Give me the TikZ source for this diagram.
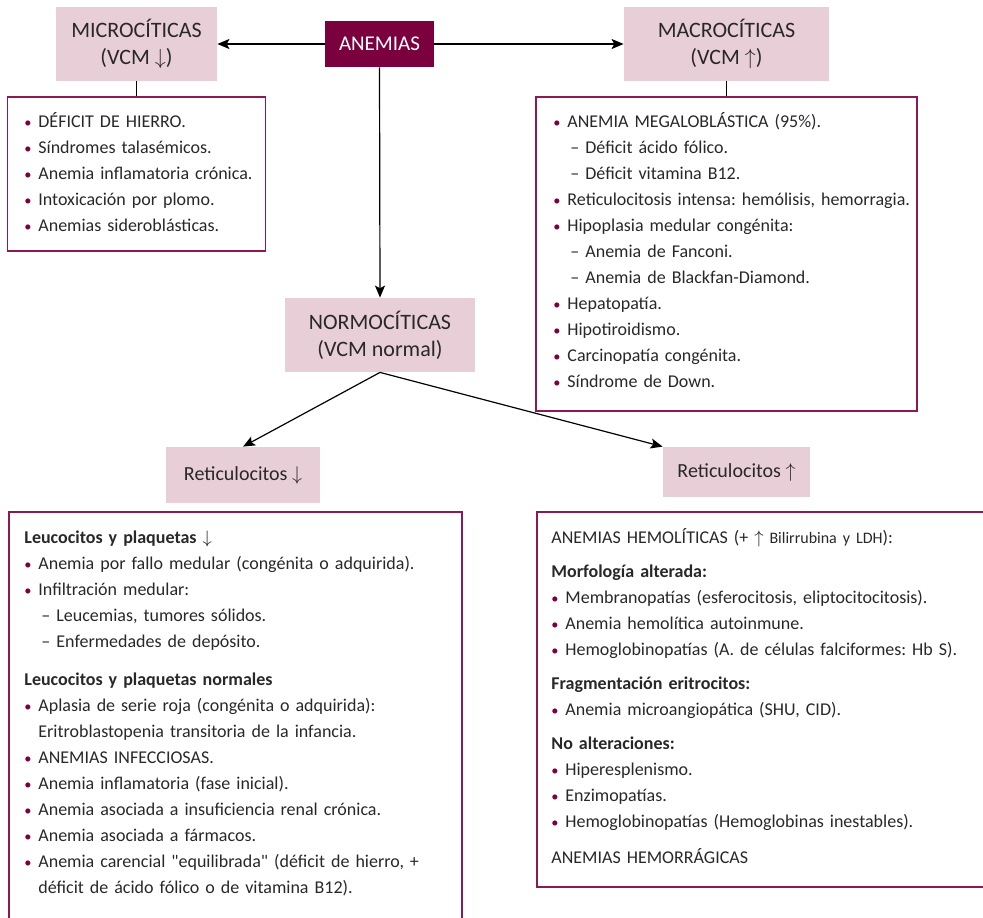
\documentclass[tikz,border=0pt]{standalone}
\usepackage{fontspec}
\setmainfont{Carlito}
\usetikzlibrary{arrows.meta, positioning}
\definecolor{anmaroon}{RGB}{122,0,62}
\definecolor{anpink}{RGB}{232,206,215}
\definecolor{anframe}{RGB}{140,25,82}
\definecolor{antext}{RGB}{40,40,40}
\frenchspacing

% list helpers: bullet item, continued line, dash sub-item, heading
\newcommand{\itm}[1]{\par\noindent\makebox[7pt][l]{\textcolor{anmaroon}{\scalebox{0.8}{\textbullet}}}\strut#1}
\newcommand{\cont}[1]{\par\noindent\hspace*{7pt}\strut#1}
\newcommand{\subitm}[1]{\par\noindent\hspace*{8.5pt}\makebox[7.5pt][l]{--}\strut#1}
\newcommand{\hd}[2][0pt]{\par\vspace{#1}\noindent\textbf{#2}\strut}

\begin{document}
\begin{tikzpicture}[
    x=0.5pt, y=-0.5pt,
    font=\fontsize{9}{13}\selectfont, text=antext,
    title/.style={rectangle, fill=anpink, inner sep=0pt, align=center,
                  font=\fontsize{11}{13.5}\selectfont},
    rootbox/.style={rectangle, fill=anmaroon, text=white, inner sep=0pt,
                    font=\fontsize{10.5}{12}\selectfont},
    framebox/.style={rectangle, draw=anframe, line width=0.75pt, inner sep=0pt},
    listtext/.style={anchor=north west, inner sep=0pt, align=left},
    arr/.style={-{Stealth[length=6pt, width=5pt, inset=1.3pt]}, line width=0.6pt},
    link/.style={line width=0.6pt}
]
\clip (0,0) rectangle (983,917);

% Top row
\node[rootbox, minimum width=54.5pt, minimum height=23pt] (anemias) at (379.5,44) {ANEMIAS};
\node[title, minimum width=80.5pt, minimum height=37pt] (micro) at (136.5,44) {MICROCÍTICAS\\(VCM $\downarrow$)};
\node[title, minimum width=102.5pt, minimum height=37pt] (macro) at (726.5,44) {MACROCÍTICAS\\(VCM $\uparrow$)};

% Lists under micro / macro
\node[framebox, minimum width=129pt, minimum height=77pt, below=7.5pt of micro] (microlist) {};
\node[framebox, minimum width=190.5pt, minimum height=157pt, below=7.5pt of macro] (macrolist) {};

\node[listtext, text width=125pt] (microtext) at (24,101) {%
\itm{DÉFICIT DE HIERRO.}
\itm{Síndromes talasémicos.}
\itm{Anemia inflamatoria crónica.}
\itm{Intoxicación por plomo.}
\itm{Anemias sideroblásticas.}};

\node[listtext, text width=200pt] (macrotext) at (553,101) {%
\itm{ANEMIA MEGALOBLÁSTICA (95\%).}
\subitm{Déficit ácido fólico.}
\subitm{Déficit vitamina B12.}
\itm{Reticulocitosis intensa: hemólisis, hemorragia.}
\itm{Hipoplasia medular congénita:}
\subitm{Anemia de Fanconi.}
\subitm{Anemia de Blackfan-Diamond.}
\itm{Hepatopatía.}
\itm{Hipotiroidismo.}
\itm{Carcinopatía congénita.}
\itm{Síndrome de Down.}};

% Middle
\node[title, minimum width=95pt, minimum height=37pt] (normo) at (380,335) {NORMOCÍTICAS\\(VCM normal)};
\node[title, minimum width=77pt, minimum height=28pt, font=\fontsize{10}{12}\selectfont] (retidown) at (243,475) {Reticulocitos $\downarrow$};
\node[title, minimum width=73.5pt, minimum height=25pt, font=\fontsize{10}{12}\selectfont] (retiup) at (736.5,472) {Reticulocitos $\uparrow$};

% Bottom lists (run past the page edge)
\node[framebox, anchor=north west, minimum width=226.5pt, minimum height=215pt] (lowlist) at (8,511) {};
\node[framebox, anchor=north west, minimum width=235pt, minimum height=187.5pt] (highlist) at (536,511) {};

\node[listtext, text width=220pt] (lowtext) at (24,517) {%
\hd{Leucocitos y plaquetas $\downarrow$}
\itm{Anemia por fallo medular (congénita o adquirida).}
\itm{Infiltración medular:}
\subitm{Leucemias, tumores sólidos.}
\subitm{Enfermedades de depósito.}
\hd[6pt]{Leucocitos y plaquetas normales}
\itm{Aplasia de serie roja (congénita o adquirida):}
\cont{Eritroblastopenia transitoria de la infancia.}
\itm{ANEMIAS INFECCIOSAS.}
\itm{Anemia inflamatoria (fase inicial).}
\itm{Anemia asociada a insuficiencia renal crónica.}
\itm{Anemia asociada a fármacos.}
\itm{Anemia carencial \textquotedbl equilibrada\textquotedbl{} (déficit de hierro, +}
\cont{déficit de ácido fólico o de vitamina B12).}};

\node[listtext, text width=215pt] (hightext) at (551,525) {%
\noindent\strut ANEMIAS HEMOLÍTICAS (+ $\uparrow$ {\fontsize{8}{13}\selectfont Bilirrubina y LDH}):
\hd[4pt]{Morfología alterada:}
\itm{Membranopatías (esferocitosis, eliptocitocitosis).}
\itm{Anemia hemolítica autoinmune.}
\itm{Hemoglobinopatías (A. de células falciformes: Hb S).}
\hd[4pt]{Fragmentación eritrocitos:}
\itm{Anemia microangiopática (SHU, CID).}
\hd[4pt]{No alteraciones:}
\itm{Hiperesplenismo.}
\itm{Enzimopatías.}
\itm{Hemoglobinopatías (Hemoglobinas inestables).}
\par\vspace{5pt}\noindent\strut ANEMIAS HEMORRÁGICAS};

% Connectors
\draw[arr] (anemias.west) -- (micro.east);
\draw[arr] (anemias.east) -- (macro.west);
\draw[arr] (anemias.south) -- (normo.north);
\draw[link] (micro.south) -- (microlist.north);
\draw[link] (macro.south) -- (macrolist.north);
\draw[arr] (normo.south) -- (retidown.north);
\draw[arr] (normo.south) -- (retiup.north west);
\end{tikzpicture}
\end{document}
